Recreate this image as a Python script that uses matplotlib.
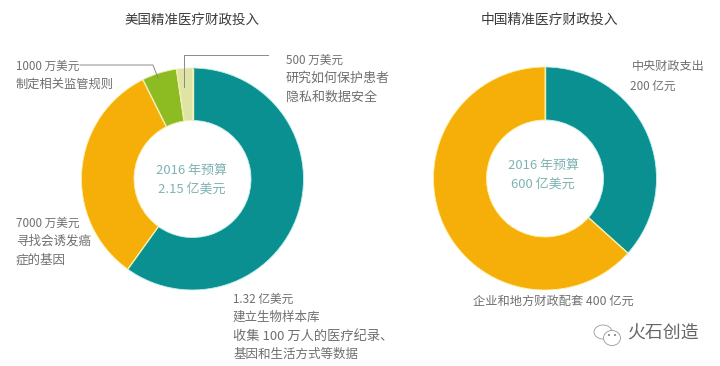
import numpy as np
import matplotlib
matplotlib.use("Agg")
import matplotlib.pyplot as plt
from matplotlib.patches import Ellipse

plt.rcParams['font.family'] = ['Noto Sans CJK SC', 'DejaVu Sans']

W, H = 720, 366
TEAL, ORANGE, GREEN, PALE = '#0a9090', '#f6ae08', '#8dbb22', '#dfe3a4'

us_title = '美国精准医疗财政投入'
us_values = [130, 71, 11, 5]
us_colors = [TEAL, ORANGE, GREEN, PALE]
us_halos = ['#c4f0f0', '#fdf0a8', '#e4f0b0', '#f0f2d0']
us_center = ['2016 年预算', '2.15 亿美元']

cn_title = '中国精准医疗财政投入'
cn_values = [220, 380]
cn_colors = [TEAL, ORANGE]
cn_halos = ['#c4f0f0', '#fdf0a8']
cn_center = ['2016 年预算', '600 亿美元']

fig = plt.figure(figsize=(W / 100, H / 100), dpi=100, facecolor='white')


def donut(cx, cy, r, ri, values, colors, halos):
    ax = fig.add_axes([(cx - r - 1) / W, 1 - (cy + r + 1) / H, (2 * r + 2) / W, (2 * r + 2) / H])
    R = r / (r + 1)
    Ri = ri / (r + 1)
    wedges, _ = ax.pie(values, colors=colors, startangle=90, counterclock=False, radius=R,
                       wedgeprops=dict(width=R - Ri, linewidth=0.6))
    for w, h in zip(wedges, halos):
        w.set_edgecolor(h)
    for w in wedges:
        a = np.deg2rad(w.theta1)
        ax.plot([Ri * np.cos(a), R * np.cos(a)], [Ri * np.sin(a), R * np.sin(a)],
                color='#f0eeaa', lw=1.0, solid_capstyle='butt')
    ax.set_xlim(-1, 1)
    ax.set_ylim(-1, 1)
    ax.set_aspect('equal')
    ax.axis('off')


def label(x, y, s, size=8.4, color='#6f6f6f', **kw):
    kw.setdefault('va', 'center')
    kw.setdefault('ha', 'left')
    fig.text(x / W, 1 - y / H, s, fontsize=size, color=color, **kw)


def leader(xs, ys):
    fig.add_artist(plt.Line2D([x / W for x in xs], [1 - y / H for y in ys],
                              color='#8a8a8a', lw=0.7, transform=fig.transFigure))


donut(192.5, 179, 111, 58.5, us_values, us_colors, us_halos)
donut(545, 178.5, 111.5, 58.5, cn_values, cn_colors, cn_halos)

label(192, 20, us_title, size=9.7, color='#3a3a3a', ha='center')
label(549.5, 20, cn_title, size=9.9, color='#3a3a3a', ha='center')

for x, y, s, sz in [(16, 66, '1000 万美元', 8.4), (16, 84, '制定相关监管规则', 8.8),
                    (286, 60, '500 万美元', 8.4), (286, 78, '研究如何保护患者', 9.4),
                    (286, 97, '隐私和数据安全', 9.4),
                    (16, 223, '7000 万美元', 8.4), (16, 241, '寻找会诱发癌', 9.0),
                    (16, 260, '症的基因', 9.0),
                    (233, 299, '1.32 亿美元', 8.4), (233, 317, '建立生物样本库', 9.0),
                    (233, 336, '收集 100 万人的医疗纪录、', 9.5),
                    (233, 354, '基因和生活方式等数据', 9.0),
                    (632, 66, '中央财政支出', 8.7), (630, 86, '200 亿元', 8.4),
                    (473, 301, '企业和地方财政配套 400 亿元', 8.8)]:
    label(x, y, s, size=sz)

label(192, 170, us_center[0], size=9.4, color='#7fb3b3', ha='center')
label(192, 189, us_center[1], size=9.4, color='#7fb3b3', ha='center')
label(543, 165, cn_center[0], size=9.4, color='#7fb3b3', ha='center')
label(543, 184, cn_center[1], size=9.4, color='#7fb3b3', ha='center')

leader([80, 153, 158], [65, 65, 78])
leader([184, 184, 268], [87, 55, 55])

# watermark
label(627, 334, '火石创造', size=12.9, color='#666666')
for x, y, w, h in [(603, 332, 18, 14), (612, 338, 17, 15)]:
    fig.add_artist(Ellipse((x / W, 1 - y / H), w / W, h / H, transform=fig.transFigure,
                           facecolor='white', edgecolor='#999999', lw=0.6))
for x, y in [(609, 335), (615, 335)]:
    fig.add_artist(Ellipse((x / W, 1 - y / H), 2 / W, 2 / H, transform=fig.transFigure,
                           facecolor='#777777', edgecolor='none'))

fig.savefig('out.png', dpi=100, facecolor='white')
